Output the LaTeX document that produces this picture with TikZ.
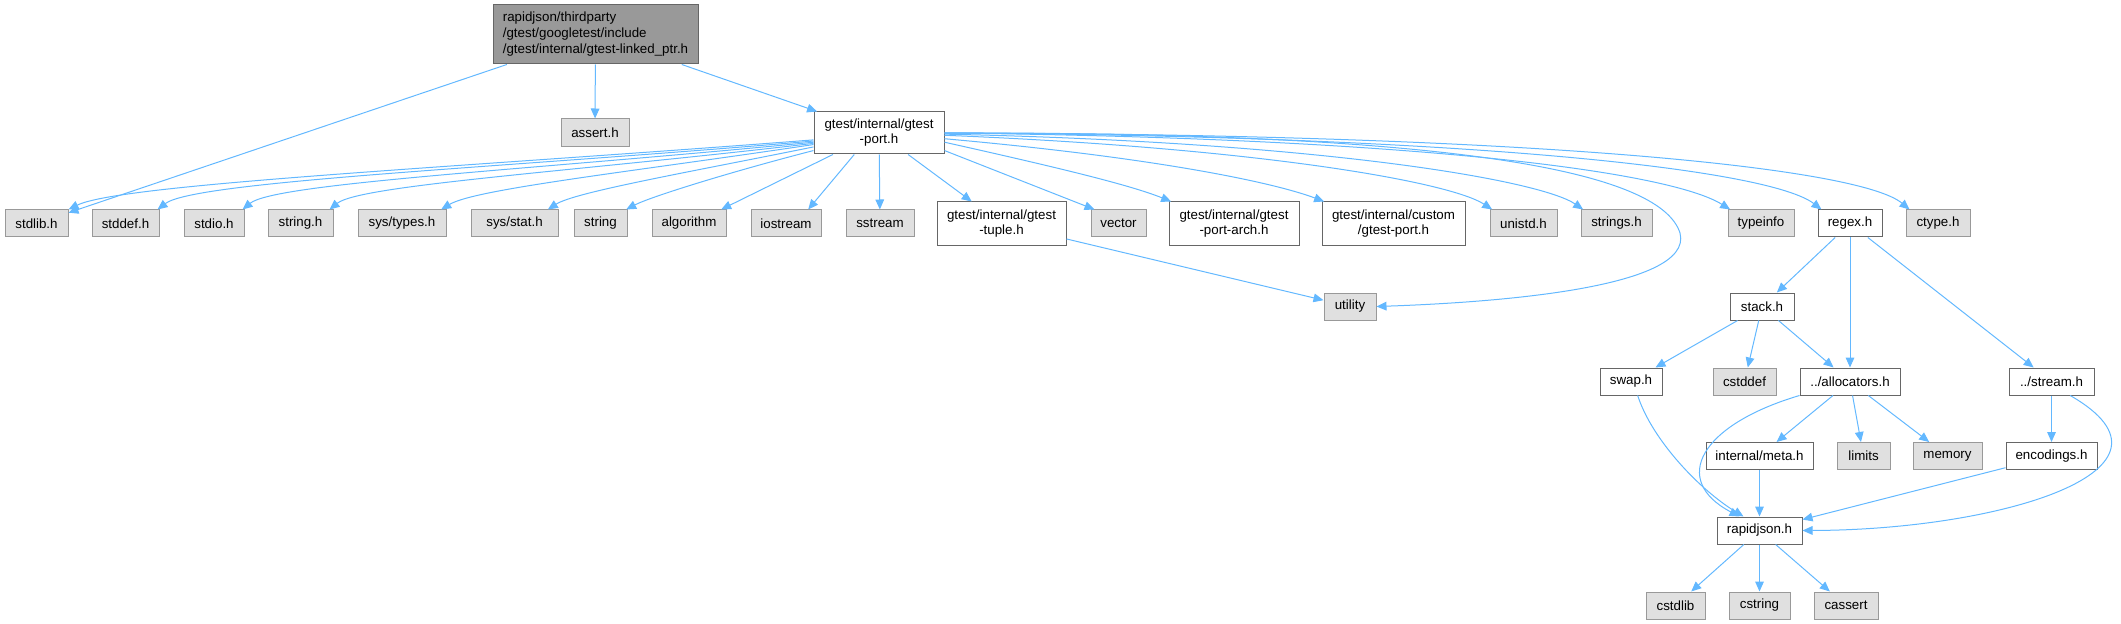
\documentclass[tikz,border=0pt]{standalone}
\usepackage{fontspec}
\setmainfont{Liberation Sans}
\usetikzlibrary{arrows.meta}
\definecolor{incedge}{HTML}{63B8FF}
\definecolor{sysfill}{HTML}{E0E0E0}
\definecolor{sysline}{HTML}{999999}
\definecolor{mainfill}{HTML}{999999}
\definecolor{hdrline}{HTML}{666666}

\begin{document}
\begin{tikzpicture}[x=0.75pt, y=-0.75pt,
  hdr/.style={draw=hdrline, fill=white, line width=0.75pt, minimum height=20.25pt, inner sep=0pt, align=center, font=\fontsize{10}{11.25}\selectfont},
  syshdr/.style={hdr, draw=sysline, fill=sysfill},
  twoline/.style={minimum height=32.25pt},
  inc/.style={incedge, line width=0.75pt, -{Triangle[length=7.5pt,width=6.5pt]}}]
  \useasboundingbox (0,0) rectangle (2121,624);

  % the file itself and its direct includes
  \node[hdr, fill=mainfill, align=left, minimum width=153.75pt, minimum height=44.25pt, font=\fontsize{10}{12}\selectfont] (main) at (595.5,34.5) {rapidjson/thirdparty\\/gtest/googletest/include\\/gtest/internal/gtest-linked\_ptr.h};
  \node[syshdr, minimum width=51pt, minimum height=21pt] (assert) at (595,133) {assert.h};
  \node[hdr, minimum width=97.5pt, minimum height=31.5pt] (gport) at (879,133) {gtest/internal/gtest\\-port.h};

  % includes of gtest-port.h
  \node[syshdr, minimum width=47.25pt] (stdlib) at (36.5,223.5) {stdlib.h};
  \node[syshdr, minimum width=50.25pt] (stddef) at (125.5,223.5) {stddef.h};
  \node[syshdr, minimum width=45pt] (stdio) at (214,223.5) {stdio.h};
  \node[syshdr, minimum width=48.75pt] (stringh) at (300.5,223.5) {string.h};
  \node[syshdr, minimum width=66pt] (systypes) at (402,223.5) {sys/types.h};
  \node[syshdr, minimum width=65.25pt] (sysstat) at (514.5,223.5) {sys/stat.h};
  \node[syshdr, minimum width=39.75pt] (string) at (600.5,223.5) {string};
  \node[syshdr, minimum width=55.5pt] (algorithm) at (689,223.5) {algorithm};
  \node[syshdr, minimum width=52.5pt] (iostream) at (786,223.5) {iostream};
  \node[syshdr, minimum width=51pt] (sstream) at (880,223.5) {sstream};
  \node[hdr, twoline, minimum width=96.75pt] (tuple) at (1001.5,223.5) {gtest/internal/gtest\\-tuple.h};
  \node[syshdr, minimum width=41.25pt] (vector) at (1118.5,223.5) {vector};
  \node[hdr, twoline, minimum width=97.5pt] (portarch) at (1234,223.5) {gtest/internal/gtest\\-port-arch.h};
  \node[hdr, twoline, minimum width=107.25pt] (custom) at (1393.5,223.5) {gtest/internal/custom\\/gtest-port.h};
  \node[syshdr, minimum width=50.25pt] (unistd) at (1523.5,223.5) {unistd.h};
  \node[syshdr, minimum width=53.25pt] (strings) at (1616.5,223.5) {strings.h};
  \node[syshdr, minimum width=49.5pt] (typeinfo) at (1761,223.5) {typeinfo};
  \node[hdr, minimum width=48pt] (regex) at (1850,223.5) {regex.h};
  \node[syshdr, minimum width=48pt] (ctype) at (1938,223.5) {ctype.h};
  \node[syshdr, minimum width=39pt] (utility) at (1350,306.5) {utility};

  % rapidjson part
  \node[hdr, minimum width=48pt] (stack) at (1762,306.5) {stack.h};
  \node[hdr, minimum width=46.5pt] (swap) at (1631,381.5) {swap.h};
  \node[syshdr, minimum width=47.25pt] (cstddef) at (1744.5,381.5) {cstddef};
  \node[hdr, minimum width=75pt] (alloc) at (1850,381.5) {../allocators.h};
  \node[hdr, minimum width=63.75pt] (stream) at (2051.5,381.5) {../stream.h};
  \node[hdr, minimum width=80.25pt] (meta) at (1759.5,456) {internal/meta.h};
  \node[syshdr, minimum width=39.75pt] (limits) at (1863.5,456) {limits};
  \node[syshdr, minimum width=51.75pt] (memory) at (1947.5,456) {memory};
  \node[hdr, minimum width=68.25pt] (encodings) at (2051.5,456) {encodings.h};
  \node[hdr, minimum width=63.75pt] (rapidjson) at (1759.5,530.5) {rapidjson.h};
  \node[syshdr, minimum width=44.25pt] (cstdlib) at (1675.5,605.5) {cstdlib};
  \node[syshdr, minimum width=45.75pt] (cstring) at (1759.5,605.5) {cstring};
  \node[syshdr, minimum width=48pt] (cassert) at (1846,605.5) {cassert};

  % edges from the file
  \draw[inc] (main) -- (stdlib);
  \draw[inc] (main) -- (assert);
  \draw[inc] (main) -- (gport);

  % edges from gtest-port.h, left side
  \draw[inc] (gport.186) .. controls (450,168) and (120,184) .. (stdlib.north east);
  \draw[inc] (gport.187) .. controls (500,168) and (195,181) .. ([xshift=-1.5pt]stddef.north east);
  \draw[inc] (gport.188) .. controls (530,170) and (275,183) .. ([xshift=-1.5pt]stdio.north east);
  \draw[inc] (gport.189) .. controls (570,172) and (360,185) .. ([xshift=-3pt]stringh.north east);
  \draw[inc] (gport.190) .. controls (630,172) and (475,189) .. ([xshift=-4pt]systypes.north east);
  \draw[inc] (gport.192) .. controls (690,172) and (575,192) .. ([xshift=-8pt]sysstat.north east);
  \draw[inc] (gport.195) .. controls (730,172) and (650,197) .. ([xshift=-1pt]string.north east);
  \draw[inc] (gport.205) -- ([xshift=-4pt]algorithm.north east);
  \draw[inc] (gport.221) -- ([xshift=-10pt]iostream.north east);
  \draw[inc] (gport) -- (sstream);
  \draw[inc] (gport) -- (tuple);

  % edges from gtest-port.h, right side
  \draw[inc] (gport.345) -- ([xshift=3pt]vector.north west);
  \draw[inc] (gport.352) .. controls (1060,168) and (1130,185) .. ([xshift=2pt]portarch.north west);
  \draw[inc] (gport.355) .. controls (1160,158) and (1275,183) .. ([xshift=2pt]custom.north west);
  \draw[inc] (gport.358) .. controls (1260,148) and (1450,182) .. ([xshift=2pt]unistd.north west);
  \draw[inc] (gport.359) .. controls (1320,142) and (1540,180) .. ([xshift=2pt]strings.north west);
  \draw[inc] (gport.east) .. controls (1420,138) and (1670,172) .. ([xshift=2pt]typeinfo.north west);
  \draw[inc] (gport.east) .. controls (1480,136) and (1770,170) .. ([xshift=3pt]regex.north west);
  \draw[inc] (gport.east) .. controls (1540,134) and (1860,168) .. ([xshift=3pt]ctype.north west);
  \draw[inc] (gport.east) .. controls (1450,132) and (1660,170) .. (1680,233) .. controls (1695,290) and (1480,303) .. (utility.east);
  \draw[inc] (tuple) -- (utility);

  % edges inside rapidjson
  \draw[inc] (regex) -- (stack);
  \draw[inc] (regex) -- (alloc);
  \draw[inc] (regex) -- (stream);
  \draw[inc] (stack) -- (swap);
  \draw[inc] (stack) -- (cstddef);
  \draw[inc] (stack) -- (alloc);
  \draw[inc] ([xshift=5pt]swap.south) .. controls (1652,440) and (1700,490) .. ([xshift=-12pt]rapidjson.north);
  \draw[inc] (alloc.south west) .. controls (1700,425) and (1670,480) .. ([xshift=-15pt]rapidjson.north);
  \draw[inc] (alloc) -- (meta);
  \draw[inc] (alloc) -- (limits);
  \draw[inc] (alloc) -- (memory);
  \draw[inc] (stream) -- (encodings);
  \draw[inc] ([xshift=14pt]stream.south) .. controls (2200,470) and (2000,530) .. (rapidjson.east);
  \draw[inc] (meta) -- (rapidjson);
  \draw[inc] (encodings) -- (rapidjson);
  \draw[inc] (rapidjson) -- (cstdlib);
  \draw[inc] (rapidjson) -- (cstring);
  \draw[inc] (rapidjson) -- (cassert);
\end{tikzpicture}
\end{document}
